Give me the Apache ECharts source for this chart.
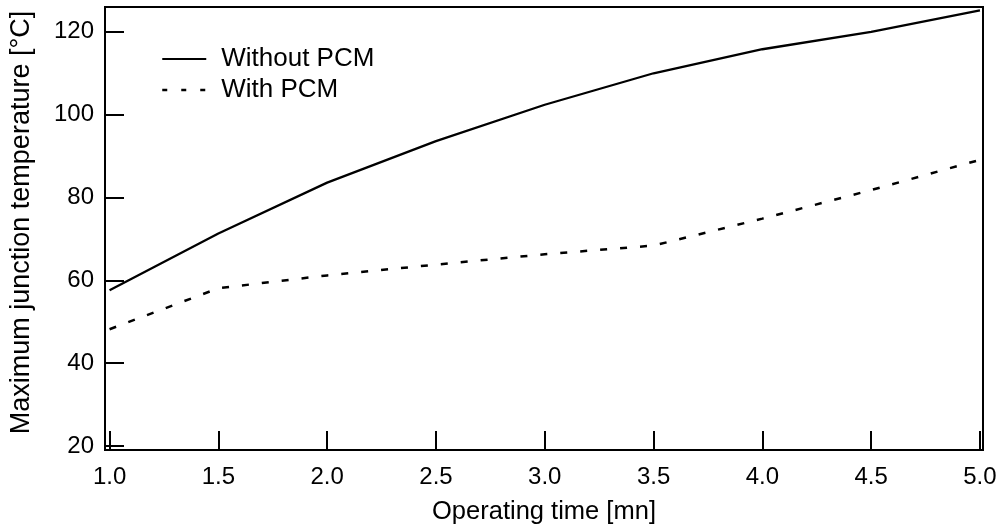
<!DOCTYPE html>
<html>
<head>
<meta charset="utf-8">
<script src="https://cdn.jsdelivr.net/npm/echarts@6/dist/echarts.min.js"></script>
<style>
  html, body { margin: 0; padding: 0; background: #fff; }
  #chart { width: 1002px; height: 530px; }
</style>
</head>
<body>
<div id="chart"></div>
<script>
// Operating time (minutes) at which the junction temperature was sampled
const operatingTime = [1.0, 1.5, 2.0, 2.5, 3.0, 3.5, 4.0, 4.5, 5.0];
// Maximum junction temperature (°C)
const withoutPCM = [57.6, 71.3, 83.6, 93.6, 102.4, 110.0, 115.8, 120.0, 125.2];
const withPCM = [48.2, 58.1, 61.2, 63.8, 66.3, 68.4, 74.9, 81.8, 89.1];

// Tick positions
const xTicks = [1.0, 1.5, 2.0, 2.5, 3.0, 3.5, 4.0, 4.5, 5.0];
const yTicks = [20, 40, 60, 80, 100, 120];

const FONT = '"Liberation Sans", Arial, Helvetica, sans-serif';

const pairs = (xs, ys) => xs.map((x, i) => [x, ys[i]]);

const chart = echarts.init(document.getElementById('chart'), null, { renderer: 'canvas' });

chart.setOption({
  animation: false,
  backgroundColor: '#ffffff',
  textStyle: { fontFamily: FONT, color: '#000' },
  grid: {
    left: 104, top: 7, right: 19, bottom: 79,
    show: true, borderColor: '#000', borderWidth: 2, backgroundColor: 'transparent'
  },
  legend: {
    orient: 'vertical',
    left: 161, top: 46, padding: 0,
    itemWidth: 44, itemHeight: 14, itemGap: 5,
    // plain line keys, no point marker
    itemStyle: { opacity: 0 },
    textStyle: { fontFamily: FONT, fontSize: 26, color: '#000', padding: [0, 0, 0, 10], lineHeight: 24 },
    data: [
      { name: 'Without PCM' },
      { name: 'With PCM', lineStyle: { type: [5, 14], width: 2.5 } }
    ]
  },
  xAxis: {
    type: 'value',
    min: 0.979, max: 5.014,
    name: 'Operating time [mn]',
    nameLocation: 'middle',
    nameGap: 49,
    nameTextStyle: { fontFamily: FONT, fontSize: 25.5, color: '#000' },
    axisLine: { show: false },
    splitLine: { show: false },
    axisTick: {
      show: true, inside: true, length: 19,
      lineStyle: { color: '#000', width: 2 },
      customValues: xTicks
    },
    axisLabel: {
      fontFamily: FONT, fontSize: 24, color: '#000', margin: 15,
      customValues: xTicks,
      formatter: v => v.toFixed(1)
    }
  },
  yAxis: {
    type: 'value',
    min: 19.04, max: 126.0,
    name: 'Maximum junction temperature [°C]',
    nameLocation: 'middle',
    nameGap: 70,
    nameRotate: 90,
    nameTextStyle: { fontFamily: FONT, fontSize: 27, color: '#000', padding: [0, 0, 0, 12] },
    axisLine: { show: false },
    splitLine: { show: false },
    axisTick: {
      show: true, inside: true, length: 19,
      lineStyle: { color: '#000', width: 2 },
      customValues: yTicks
    },
    axisLabel: {
      fontFamily: FONT, fontSize: 24, color: '#000', margin: 11,
      customValues: yTicks
    }
  },
  series: [
    {
      name: 'Without PCM',
      type: 'line',
      data: pairs(operatingTime, withoutPCM),
      symbol: 'none',
      smooth: false,
      lineStyle: { color: '#000', width: 2.3, type: 'solid' },
      itemStyle: { color: '#000' }
    },
    {
      name: 'With PCM',
      type: 'line',
      data: pairs(operatingTime, withPCM),
      symbol: 'none',
      smooth: false,
      lineStyle: { color: '#000', width: 2.5, type: [7, 13] },
      itemStyle: { color: '#000' }
    }
  ]
});
</script>
</body>
</html>
